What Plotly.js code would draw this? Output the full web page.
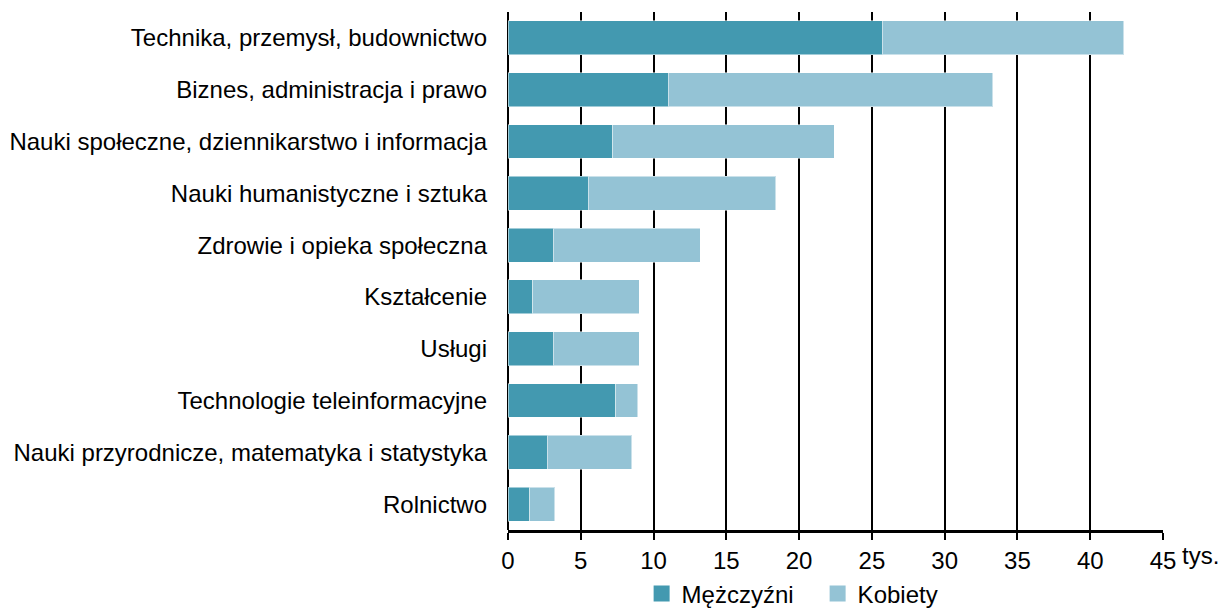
<!DOCTYPE html>
<html><head><meta charset="utf-8">
<script src="https://cdn.plot.ly/plotly-3.0.1.min.js"></script>
<style>html,body{margin:0;padding:0;background:#fff}#c{width:1219px;height:610px}</style>
</head><body><div id="c"></div>
<script>
const categories = ["Technika, przemysł, budownictwo","Biznes, administracja i prawo","Nauki społeczne, dziennikarstwo i informacja","Nauki humanistyczne i sztuka","Zdrowie i opieka społeczna","Kształcenie","Usługi","Technologie teleinformacyjne","Nauki przyrodnicze, matematyka i statystyka","Rolnictwo"];
const men   = [25.7, 11.0, 7.2, 5.5, 3.1, 1.7, 3.1, 7.4, 2.7, 1.5];
const women = [16.6, 22.3, 15.2, 12.9, 10.1, 7.3, 5.9, 1.5, 5.8, 1.7];
const tickVals = [0,5,10,15,20,25,30,35,40,45];
const tickText = ["0","5","10","15","20","25","30","35","40","45"];
const unitLabel = "tys.";
const seriesNames = ["Mężczyźni","Kobiety"];
const seriesColors = ["#4399B0","#94C3D5"];

const font = {family: "Liberation Sans, Arial, sans-serif", size: 24, color: "#000"};
const data = [
  {type:"bar", orientation:"h", name:seriesNames[0], y:categories, x:men, showlegend:false,
   marker:{color:seriesColors[0], line:{color:"rgba(255,255,255,0.5)", width:1}}},
  {type:"bar", orientation:"h", name:seriesNames[1], y:categories, x:women, showlegend:false,
   marker:{color:seriesColors[1], line:{color:"rgba(255,255,255,0.5)", width:1}}},
  {type:"scatter", mode:"markers", name:seriesNames[0], x:[null], y:[null], showlegend:true,
   marker:{symbol:"square", size:16, color:seriesColors[0]}},
  {type:"scatter", mode:"markers", name:seriesNames[1], x:[null], y:[null], showlegend:true,
   marker:{symbol:"square", size:16, color:seriesColors[1]}}
];
const layout = {
  width:1219, height:610, barmode:"stack", bargap:0.344,
  margin:{l:508, r:56, t:12, b:80, autoexpand:false},
  font:font, showlegend:true,
  paper_bgcolor:"#fff", plot_bgcolor:"#fff",
  xaxis:{range:[0,45], tickvals:tickVals, ticktext:tickText, showgrid:true, gridcolor:"#000", gridwidth:2,
    zeroline:true, zerolinecolor:"#000", zerolinewidth:2, showline:true, linecolor:"#000", linewidth:3,
    ticks:"outside", ticklen:7, tickwidth:2, tickcolor:"#000", fixedrange:true, tickfont:font, automargin:false},
  yaxis:{autorange:"reversed", showgrid:false, zeroline:false, showline:false, ticks:"", ticklabelstandoff:20, tickfont:font, automargin:false},
  legend:{orientation:"h", x:0.204, xanchor:"left", y:-0.08, yanchor:"top", font:font, traceorder:"normal", itemwidth:30, entrywidth:131},
  annotations:[{xref:"x", yref:"paper", x:45, y:0, xanchor:"left", yanchor:"top", xshift:17, yshift:-10,
    text:unitLabel, showarrow:false, font:font}]
};
Plotly.newPlot("c", data, layout, {displayModeBar:false, staticPlot:true});
</script></body></html>
